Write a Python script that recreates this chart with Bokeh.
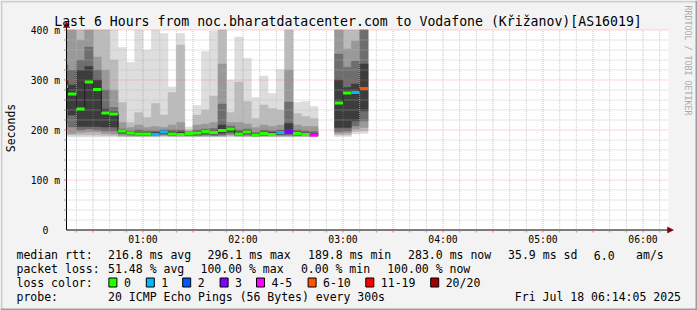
import numpy as np
from bokeh.plotting import figure
from bokeh.models import Range1d
from bokeh.core.properties import value
from bokeh.embed import file_html
from bokeh.resources import INLINE

# ---------------- data ----------------
title_text = "Last 6 Hours from noc.bharatdatacenter.com to Vodafone (Křižanov)[AS16019]"
y_title = "Seconds"
watermark = "RRDTOOL / TOBI OETIKER"
graph_start_min = 14 + 5 / 60.0     # 00:14:05
graph_end_min = 374 + 5 / 60.0      # 06:14:05
step_min = 5

slot_start = ["00:10", "00:15", "00:20", "00:25", "00:30", "00:35", "00:40", "00:45",
              "00:50", "00:55", "01:00", "01:05", "01:10", "01:15", "01:20", "01:25",
              "01:30", "01:35", "01:40", "01:45", "01:50", "01:55", "02:00", "02:05",
              "02:10", "02:15", "02:20", "02:25", "02:30", "02:35", "02:40",
              "02:55", "03:00", "03:05", "03:10"]

median_ms = [287, 272, 242, 296.1, 281, 234, 232,
             198, 194, 192, 192, 191, 196, 192, 191, 193, 194, 197, 195, 199, 202,
             192, 196, 189.8, 193, 191, 195, 197, 193, 191, 190,
             254, 274, 275, 283.0]

loss_count = [0, 0, 0, 0, 0, 0, 0,
              0, 0, 0, 0, 1, 1, 0, 0, 0, 0, 0, 0, 0, 0,
              0, 0, 0, 0, 0, 1, 3, 0, 0, 4,
              0, 0, 1, 7]

# smoke envelope (outer -> inner), upper bounds
smoke_hi_1 = [450, 450, 450, 450, 450, 450, 430,
              365, 335, 420, 360, 420, 393, 286, 393, 206, 249, 357, 398, 420, 300,
              386, 343, 265, 308, 273, 321, 410, 255, 257, 247,
              450, 450, 450, 450]
smoke_hi_2 = [450, 450, 440, 450, 450, 440, 340,
              255, 215, 235, 225, 253, 230, 275, 370, 200, 230, 240, 268, 420, 235,
              296, 257, 223, 250, 243, 240, 405, 233, 227, 223,
              450, 420, 450, 450]
smoke_hi_3 = [420, 420, 380, 450, 346, 320, 280,
              215, 205, 210, 205, 207, 205, 210, 215, 197, 210, 212, 215, 332, 215,
              215, 212, 205, 210, 207, 210, 320, 210, 207, 207,
              420, 362, 378, 450]
smoke_hi_4 = [330, 320, 340, 366, 320, 280, 245,
              202, 198, 200, 198, 198, 200, 200, 200, 196, 200, 202, 203, 252, 208,
              200, 202, 195, 200, 198, 200, 256, 200, 198, 197,
              352, 325, 338, 420]
smoke_hi_5 = [300, 290, 320, 327, 300, 242, 236,
              200, 196, 195, 195, 195, 198, 196, 196, 195, 197, 199, 198, 210, 205,
              196, 199, 193, 196, 195, 198, 213, 196, 194, 193,
              300, 285, 292, 332]
# lower bounds (outer -> inner)
smoke_lo_1 = [186, 186, 186, 186, 186, 186, 186,
              186, 186, 186, 186, 186, 186, 186, 186, 186, 186, 186, 186, 186, 186,
              186, 186, 186, 186, 186, 186, 186, 186, 186, 186,
              187, 187, 192, 193]
smoke_lo_2 = [190, 190, 190, 190, 190, 189, 189,
              187, 187, 187, 187, 187, 188, 187, 187, 187, 187, 187, 187, 187, 188,
              187, 187, 187, 187, 187, 187, 187, 187, 187, 187,
              190, 190, 197, 198]
smoke_lo_3 = [200, 193, 195, 196, 196, 193, 192,
              189, 188, 188, 188, 188, 189, 188, 188, 188, 188, 188, 188, 188, 190,
              188, 188, 188, 188, 188, 188, 188, 188, 188, 188,
              193, 194, 202, 205]
smoke_lo_4 = [215, 206, 200, 202, 200, 198, 198,
              192, 190, 189, 189, 189, 191, 189, 189, 189, 189, 190, 189, 190, 193,
              189, 190, 188, 189, 189, 190, 190, 189, 189, 188,
              197, 198, 208, 218]
smoke_lo_5 = [240, 230, 207, 207, 207, 206, 206,
              195, 192, 190, 190, 190, 193, 190, 190, 191, 191, 194, 192, 194, 197,
              190, 193, 189, 191, 190, 192, 193, 191, 190, 189,
              205, 205, 218, 238]

y_ticks = [0, 100, 200, 300, 400]
y_tick_labels = ["0  ", "100 m", "200 m", "300 m", "400 m"]
x_tick_labels = ["01:00", "02:00", "03:00", "04:00", "05:00", "06:00"]

row_rtt = [("median rtt:", 16), ("216.8 ms avg", 107.6), ("296.1 ms max", 207.1),
           ("189.8 ms min", 307.6), ("283.0 ms now", 407.6), ("35.9 ms sd", 507.6),
           ("6.0", 593.3), ("am/s", 635.6)]
row_loss = [("packet loss:", 16), ("51.48 % avg", 107.6), ("100.00 % max", 200),
            ("0.00 % min", 300.4), ("100.00 % now", 386.7)]
row_probe = [("probe:", 16), ("20 ICMP Echo Pings (56 Bytes) every 300s", 107.6)]
date_text = "Fri Jul 18 06:14:05 2025"
loss_legend_title = "loss color:"
loss_legend_labels = ["0", "1", "2", "3", "4-5", "6-10", "11-19", "20/20"]
loss_legend_colors = ["#26ff00", "#00b8ff", "#0059ff", "#7e00ff", "#ff00ff",
                      "#ff5500", "#ff0000", "#a10000"]
loss_bins_low = [0, 1, 2, 3, 4, 6, 11, 20]
loss_legend_box_px = [108.4, 145.8, 182.2, 219.6, 256, 307.6, 365.3, 430.2]

smoke_colors = ["#dddddd", "#bbbbbb", "#999999", "#6e6e6e", "#3c3c3c"]

# ---------------- geometry helpers (pixel -> data) ----------------
PX0 = 66.0
MIN_PER_PX = 0.6
MS_PER_PX = 2.0
PY0 = 229.5
TXT_DY = 3.5   # compensation for text baseline rendering


def xd(px):
    return graph_start_min + (px - PX0) * MIN_PER_PX


def yd(py):
    return (PY0 - py) * MS_PER_PX


def yt(py):
    return yd(py - TXT_DY)


W, H = 697, 310
p = figure(width=W, height=H, x_range=Range1d(xd(0), xd(W)), y_range=Range1d(yd(H), yd(0)),
           x_axis_type=None, y_axis_type=None, toolbar_location=None,
           output_backend="svg", min_border=0,
           background_fill_color="#f3f3f3", border_fill_color="#f3f3f3",
           outline_line_color=None)

# frame shading (3D border)
p.quad(left=[xd(0)], right=[xd(W)], top=[yd(0)], bottom=[yd(2)], fill_color="#cfcfcf", line_color=None)
p.quad(left=[xd(0)], right=[xd(2)], top=[yd(0)], bottom=[yd(H)], fill_color="#cfcfcf", line_color=None)
p.quad(left=[xd(0)], right=[xd(W)], top=[yd(H - 2)], bottom=[yd(H)], fill_color="#9e9e9e", line_color=None)
p.quad(left=[xd(W - 2)], right=[xd(W)], top=[yd(0)], bottom=[yd(H)], fill_color="#9e9e9e", line_color=None)

# white canvas
p.quad(left=[graph_start_min], right=[graph_end_min + 2 * MIN_PER_PX], bottom=[0], top=[400],
       fill_color="#ffffff", line_color=None)


def tmin(s):
    h, m = s.split(":")
    return int(h) * 60 + int(m)


left = np.array([tmin(s) for s in slot_start], dtype=float)
right = left + step_min
left = np.maximum(left, graph_start_min)
his = [smoke_hi_1, smoke_hi_2, smoke_hi_3, smoke_hi_4, smoke_hi_5]
los = [smoke_lo_1, smoke_lo_2, smoke_lo_3, smoke_lo_4, smoke_lo_5]
for hi, lo, col in zip(his, los, smoke_colors):
    p.quad(left=left, right=right, bottom=np.array(lo, float), top=np.minimum(np.array(hi, float), 400),
           fill_color=col, line_color=col, line_width=0.5)

# grid
t_minor = [t for t in range(20, int(graph_end_min) + 1, 10) if t % 30 != 0]
t_major = [t for t in range(30, int(graph_end_min) + 1, 30)]
v_minor = [v for v in range(20, 400, 20) if v % 100 != 0]
v_major = [100, 200, 300, 400]
gx1 = graph_end_min + 2 * MIN_PER_PX
p.segment(x0=t_minor, x1=t_minor, y0=[0] * len(t_minor), y1=[400] * len(t_minor),
          line_color="#b8b8b8", line_alpha=0.7, line_width=1, line_dash="1 1")
p.segment(x0=[graph_start_min] * len(v_minor), x1=[gx1] * len(v_minor), y0=v_minor, y1=v_minor,
          line_color="#b8b8b8", line_alpha=0.7, line_width=1, line_dash="1 1")
p.segment(x0=t_major, x1=t_major, y0=[0] * len(t_major), y1=[400] * len(t_major),
          line_color="#ff6060", line_alpha=0.55, line_width=1, line_dash="1 1")
p.segment(x0=[graph_start_min] * len(v_major), x1=[gx1] * len(v_major), y0=v_major, y1=v_major,
          line_color="#ff6060", line_alpha=0.55, line_width=1, line_dash="1 1")

# median staircase + loss coloured median bars
med = np.array(median_ms, float)
blocks = []
start = 0
for i in range(1, len(left) + 1):
    if i == len(left) or left[i] != right[i - 1]:
        blocks.append((start, i))
        start = i
for a, b in blocks:
    xs = list(left[a:b]) + [right[b - 1]]
    ys = list(med[a:b]) + [med[b - 1]]
    p.step(x=xs, y=ys, mode="after", line_color="#202020", line_width=1)


def loss_color(n):
    c = loss_legend_colors[0]
    for lo_b, cc in zip(loss_bins_low, loss_legend_colors):
        if n >= lo_b:
            c = cc
    return c


p.quad(left=left, right=right, bottom=med - 3, top=med + 3,
       fill_color=[loss_color(n) for n in loss_count], line_color=None)

# axes
p.segment(x0=[graph_start_min], x1=[xd(668)], y0=[0], y1=[0], line_color="#000000", line_width=1)
p.segment(x0=[graph_start_min], x1=[graph_start_min], y0=[0], y1=[yd(26)], line_color="#000000", line_width=1)
p.patches(xs=[[xd(667), xd(673), xd(667)], [xd(63), xd(69), xd(66)]],
          ys=[[yd(226.5), yd(229.5), yd(232.5)], [yd(27), yd(27), yd(21)]],
          fill_color="#800000", line_color="#800000", line_width=0.5)
# axis ticks
p.segment(x0=[xd(63.5)] * len(v_minor), x1=[graph_start_min] * len(v_minor), y0=v_minor, y1=v_minor,
          line_color="#999999", line_width=1)
p.segment(x0=[xd(63.5)] * len(v_major), x1=[graph_start_min] * len(v_major), y0=v_major, y1=v_major,
          line_color="#ff6060", line_width=1)
p.segment(x0=t_minor, x1=t_minor, y0=[0] * len(t_minor), y1=[yd(232)] * len(t_minor),
          line_color="#999999", line_width=1)
p.segment(x0=t_major, x1=t_major, y0=[0] * len(t_major), y1=[yd(232)] * len(t_major),
          line_color="#ff6060", line_width=1)

MONO = value("DejaVu Sans Mono")

# y tick labels (baseline ~3.5px under grid line)
p.text(x=[xd(59.5)] * len(y_ticks), y=[yt(PY0 - v / MS_PER_PX + 3.5) for v in y_ticks], text=y_tick_labels,
       text_font=MONO, text_font_size=value("9.75px"), text_align="right",
       text_baseline="alphabetic", text_color="#000000")
# x tick labels
x_hours = [tmin(s) for s in x_tick_labels]
p.text(x=x_hours, y=[yt(242.0)] * len(x_hours), text=x_tick_labels,
       text_font=MONO, text_font_size=value("9.75px"), text_align="center",
       text_baseline="alphabetic", text_color="#000000")

# title
p.text(x=[xd(347.5)], y=[yt(24.3)], text=[title_text], text_font=MONO,
       text_font_size=value("13.2px"), text_align="center", text_baseline="alphabetic",
       text_color="#000000")
# y axis title
p.text(x=[xd(10.5)], y=[yd(127.5)], text=[y_title], text_font=MONO, angle=np.pi / 2,
       text_font_size=value("11.5px"), text_align="center", text_baseline="middle",
       text_color="#000000")
# watermark
p.text(x=[xd(687.5)], y=[yd(60)], text=[watermark], text_font=MONO, angle=-np.pi / 2,
       text_font_size=value("8.3px"), text_align="center", text_baseline="middle",
       text_color="#aaaaaa")

# legend rows
rows = [(row_rtt, 258.3), (row_loss, 272.1), ([(loss_legend_title, 16)], 285.9), (row_probe, 299.7)]
for segs, base in rows:
    p.text(x=[xd(px) for _, px in segs], y=[yt(base)] * len(segs), text=[t for t, _ in segs],
           text_font=MONO, text_font_size=value("11.5px"), text_align="left",
           text_baseline="alphabetic", text_color="#000000")
p.text(x=[xd(680.5)], y=[yt(299.7)], text=[date_text], text_font=MONO,
       text_font_size=value("11.5px"), text_align="right", text_baseline="alphabetic",
       text_color="#000000")
bx = np.array(loss_legend_box_px)
p.quad(left=[xd(v) for v in bx], right=[xd(v + 8) for v in bx],
       top=[yd(277.5)] * len(bx), bottom=[yd(286.5)] * len(bx),
       fill_color=loss_legend_colors, line_color="#000000", line_width=1)
p.text(x=[xd(v + 15) for v in bx], y=[yt(285.9)] * len(bx), text=loss_legend_labels,
       text_font=MONO, text_font_size=value("11.5px"), text_align="left",
       text_baseline="alphabetic", text_color="#000000")

open("out.html", "w").write(file_html(p, INLINE))
